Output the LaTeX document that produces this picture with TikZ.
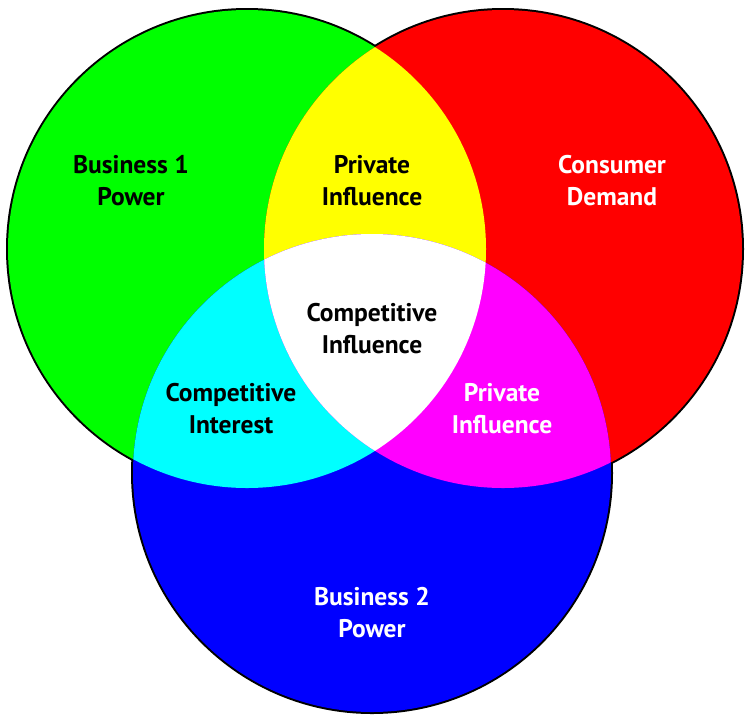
\documentclass[tikz,border=0pt]{standalone}
\usepackage{fontspec}
\setmainfont{PT Sans}
\usetikzlibrary{positioning}

\definecolor{vgreen}{RGB}{0,255,0}
\definecolor{vred}{RGB}{255,0,0}
\definecolor{vblue}{RGB}{0,0,255}
\definecolor{vyellow}{RGB}{255,255,0}
\definecolor{vcyan}{RGB}{0,255,255}
\definecolor{vmagenta}{RGB}{255,0,255}

\tikzset{
  label/.style={align=center, font=\fontsize{25.5}{32}\selectfont\bfseries, inner sep=0pt},
  darklabel/.style={label, text=black},
  lightlabel/.style={label, text=white}
}

\begin{document}
\begin{tikzpicture}[x=1pt, y=-1pt]
    \useasboundingbox (0,0) rectangle (750,724);

    % Centres of the three sets
    \coordinate (bone) at (247,249);
    \coordinate (cons) at (503,249);
    \coordinate (btwo) at (372,473);

    % Outlines first, the fills cover their inner half
    \foreach \c in {bone, cons, btwo}
        \draw[line width=4pt] (\c) circle (239);

    % Single sets
    \fill[vgreen] (bone) circle (239);
    \fill[vred] (cons) circle (239);
    \fill[vblue] (btwo) circle (239);

    % Pairwise overlaps
    \begin{scope}
        \clip (bone) circle (239);
        \fill[vyellow] (cons) circle (239);
    \end{scope}
    \begin{scope}
        \clip (bone) circle (239);
        \fill[vcyan] (btwo) circle (239);
    \end{scope}
    \begin{scope}
        \clip (cons) circle (239);
        \fill[vmagenta] (btwo) circle (239);
    \end{scope}

    % Centre overlap
    \begin{scope}
        \clip (bone) circle (239);
        \clip (cons) circle (239);
        \fill[white] (btwo) circle (239);
    \end{scope}

    % Labels
    \node[darklabel] (power1) at (131,181) {Business 1\\Power};
    \node[darklabel] (privtop) at (372,181) {Private\\Influence};
    \node[lightlabel] (demand) at (612,181) {Consumer\\Demand};
    \node[darklabel] (compinf) at (372,329) {Competitive\\Influence};
    \node[darklabel] (compint) at (231,409) {Competitive\\Interest};
    \node[lightlabel] (privlow) at (502,409) {Private\\Influence};
    \node[lightlabel] (power2) at (372,613) {Business 2\\Power};
\end{tikzpicture}
\end{document}
